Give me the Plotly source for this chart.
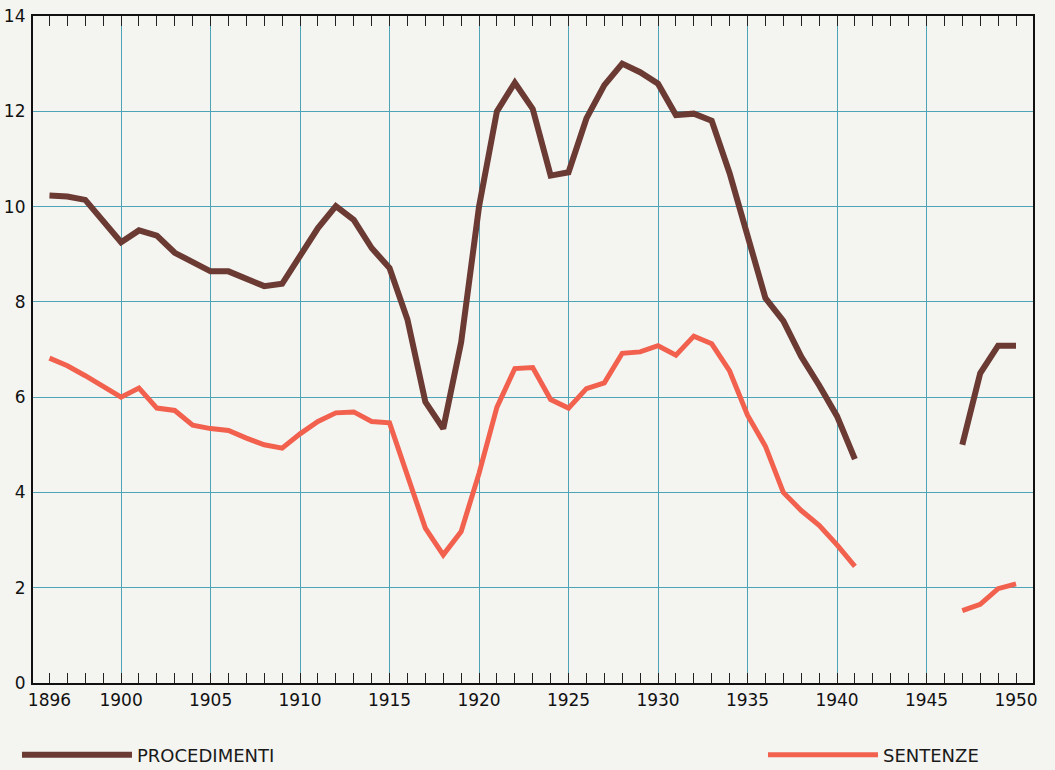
import plotly.graph_objects as go

# ---- data ----
years = list(range(1896, 1951))

procedimenti = [
    10.23, 10.21, 10.14, 9.69, 9.25, 9.50, 9.39, 9.03, 8.82, 8.64,   # 1896-1905
    8.64, 8.50, 8.33, 8.38, 8.99, 9.55, 10.01, 9.72, 9.13, 8.71,     # 1906-1915
    7.63, 5.90, 5.34, 7.15, 10.0, 12.0, 12.6, 12.05, 10.65, 10.72,   # 1916-1925
    11.85, 12.55, 13.0, 12.82, 12.58, 11.92, 11.95, 11.80, 10.70, 9.38,  # 1926-1935
    8.08, 7.60, 6.85, 6.25, 5.60, 4.70,                             # 1936-1941
    None, None, None, None, None,                                   # 1942-1946
    5.00, 6.50, 7.08, 7.08,                                         # 1947-1950
]

sentenze = [
    6.82, 6.66, 6.45, 6.24, 6.00, 6.19, 5.77, 5.72, 5.41, 5.34,      # 1896-1905
    5.30, 5.14, 5.00, 4.93, 5.23, 5.49, 5.67, 5.69, 5.49, 5.46,      # 1906-1915
    4.36, 3.25, 2.69, 3.18, 4.40, 5.79, 6.60, 6.62, 5.95, 5.77,      # 1916-1925
    6.18, 6.30, 6.92, 6.95, 7.08, 6.88, 7.28, 7.12, 6.55, 5.62,      # 1926-1935
    4.97, 4.00, 3.62, 3.31, 2.90, 2.45,                             # 1936-1941
    None, None, None, None, None,                                   # 1942-1946
    1.52, 1.65, 1.98, 2.08,                                         # 1947-1950
]

x_label_vals = [1896, 1900, 1905, 1910, 1915, 1920, 1925, 1930, 1935, 1940, 1945, 1950]
x_grid_vals = [1900, 1905, 1910, 1915, 1920, 1925, 1930, 1935, 1940, 1945]
y_vals = [0, 2, 4, 6, 8, 10, 12, 14]

series_names = ["PROCEDIMENTI", "SENTENZE"]
colors = ["#6b3a33", "#f2604e"]

BG = "#f4f4f1"
GRID = "#4ea3b6"
FONT = "DejaVu Sans"

fig = go.Figure()
# procedimenti on the labelled axis (x), sentenze on the grid overlay axis (x2)
fig.add_trace(go.Scatter(
    x=years, y=procedimenti, mode="lines", name=series_names[0],
    line=dict(color=colors[0], width=6), connectgaps=False,
    legend="legend", xaxis="x", yaxis="y",
))
fig.add_trace(go.Scatter(
    x=years, y=sentenze, mode="lines", name=series_names[1],
    line=dict(color=colors[1], width=5), connectgaps=False,
    legend="legend2", xaxis="x2", yaxis="y",
))

xr = [1895.08, 1950.95]

fig.update_layout(
    width=1055, height=770,
    margin=dict(l=33, r=22, t=16, b=87),
    paper_bgcolor=BG, plot_bgcolor=BG,
    showlegend=True,
    font=dict(family=FONT, size=16, color="#111"),
    xaxis=dict(
        range=xr, side="bottom",
        tickvals=x_label_vals, ticktext=[str(v) for v in x_label_vals],
        ticks="inside", ticklen=9.5, tickwidth=1.3, tickcolor="#222",
        minor=dict(dtick=1, tick0=1896, ticks="inside", ticklen=9.5,
                   tickwidth=1.3, tickcolor="#222", showgrid=False),
        showgrid=False, zeroline=False, automargin=False,
        showline=True, linecolor="#111", linewidth=2.2, mirror="allticks",
        tickfont=dict(family=FONT, size=17, color="#111"),
    ),
    xaxis2=dict(
        range=xr, overlaying="x", side="bottom", anchor="y",
        tickvals=x_grid_vals, showticklabels=False, ticks="",
        showgrid=True, gridcolor=GRID, gridwidth=1.3, zeroline=False,
        showline=False, automargin=False,
    ),
    yaxis=dict(
        range=[0, 14], tickvals=y_vals, ticktext=[str(v) for v in y_vals],
        ticks="", showgrid=True, gridcolor=GRID, gridwidth=1.3, zeroline=False,
        showline=True, linecolor="#111", linewidth=2.2, mirror=True,
        tickfont=dict(family=FONT, size=17, color="#111"),
        ticklabelstandoff=2, automargin=False,
    ),
    legend=dict(
        xref="container", yref="container", orientation="h",
        x=0.0161, y=0.0195, xanchor="left", yanchor="middle",
        bgcolor="rgba(0,0,0,0)", itemwidth=110,
        font=dict(family=FONT, size=18, color="#1a1a1a"),
    ),
    legend2=dict(
        xref="container", yref="container", orientation="h",
        x=0.7232, y=0.0195, xanchor="left", yanchor="middle",
        bgcolor="rgba(0,0,0,0)", itemwidth=110,
        font=dict(family=FONT, size=18, color="#1a1a1a"),
    ),
)

post = (
    "document.body.style.margin='0';"
    "var gd=document.getElementById('{plot_id}');"
    "Plotly.relayout(gd, {'xaxis.ticklen': 10, 'xaxis.minor.ticklen': 10});"
)

fig.write_html(
    "out.html",
    config={"displayModeBar": False},
    post_script=post,
)
